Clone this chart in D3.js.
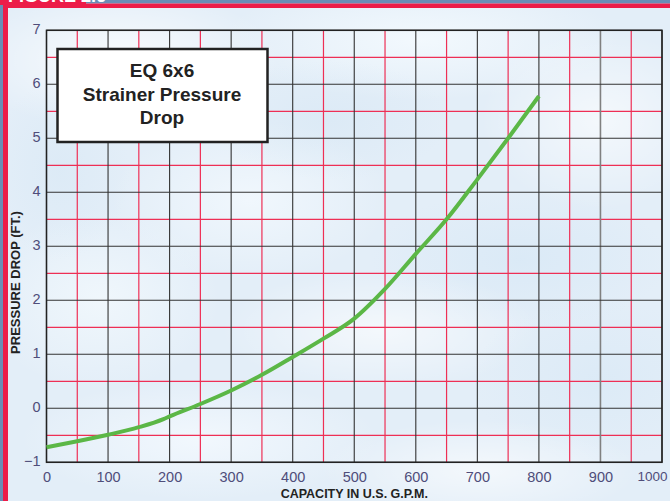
<!DOCTYPE html>
<html><head><meta charset="utf-8">
<script src="https://cdn.jsdelivr.net/npm/d3@7"></script>
<style>html,body{margin:0;padding:0;background:#e6f0f8;}svg{display:block;}</style>
</head><body>
<div id="chart"></div>
<script>
const flow = [0, 50, 100, 150, 190, 200, 250, 300, 350, 400, 450, 500, 550, 600, 650, 700, 750, 800];
const drop = [-0.72, -0.61, -0.49, -0.35, -0.2, -0.15, 0.08, 0.33, 0.62, 0.95, 1.29, 1.66, 2.21, 2.86, 3.5, 4.24, 5.0, 5.78];
const xTicks = [0, 100, 200, 300, 400, 500, 600, 700, 800, 900, 1000];
const yTicks = [-1, 0, 1, 2, 3, 4, 5, 6, 7];
const titleLines = ["EQ 6x6", "Strainer Pressure", "Drop"];
const xTitle = "CAPACITY IN U.S. G.P.M.";
const yTitle = "PRESSURE DROP (FT.)";
const figLabel = "FIGURE 2.6";

const W = 670, H = 501;
const svg = d3.select("#chart").append("svg").attr("width", W).attr("height", H)
  .style("font-family", "'Liberation Sans', Arial, sans-serif");
const defs = svg.append("defs");

// cloudy background
svg.append("rect").attr("width", W).attr("height", H).attr("fill", "#e3eef8");
const clouds = [
  [120, 60, 160, 70, "#ffffff", 0.8], [420, 40, 200, 60, "#f4fafe", 0.9], [600, 120, 120, 90, "#ffffff", 0.6],
  [250, 200, 140, 80, "#f6fbff", 0.7], [520, 260, 150, 70, "#d7e8f6", 0.7], [100, 300, 120, 90, "#f3f9fd", 0.8],
  [380, 330, 160, 60, "#ffffff", 0.6], [600, 380, 130, 80, "#d9e9f6", 0.7], [200, 440, 180, 60, "#f5faff", 0.8],
  [480, 470, 160, 50, "#ffffff", 0.6], [330, 120, 120, 60, "#d5e6f4", 0.5], [60, 170, 70, 90, "#d8e8f5", 0.6]
];
clouds.forEach((c, i) => {
  const g = defs.append("radialGradient").attr("id", "cl" + i);
  g.append("stop").attr("offset", "0%").attr("stop-color", c[4]).attr("stop-opacity", c[5]);
  g.append("stop").attr("offset", "100%").attr("stop-color", c[4]).attr("stop-opacity", 0);
  svg.append("ellipse").attr("cx", c[0]).attr("cy", c[1]).attr("rx", c[2]).attr("ry", c[3]).attr("fill", `url(#cl${i})`);
});

// frame
svg.append("rect").attr("x", 0).attr("y", 0).attr("width", W).attr("height", 3.5).attr("fill", "#6a8db6");
svg.append("rect").attr("x", 0).attr("y", 0).attr("width", 3).attr("height", H).attr("fill", "#6a8db6");
svg.append("rect").attr("x", 3).attr("y", 3.5).attr("width", W - 3).attr("height", 4.5).attr("fill", "#ec1c48");
svg.append("rect").attr("x", 3).attr("y", 3.5).attr("width", 5).attr("height", H).attr("fill", "#ec1c48");
svg.append("rect").attr("x", 0).attr("y", 0).attr("width", 86).attr("height", 5).attr("fill", "#ec1c48");
svg.append("text").attr("x", 8).attr("y", 2).attr("fill", "#fff").attr("font-weight", "bold")
  .attr("font-size", 18).text(figLabel);

const x = d3.scaleLinear().domain([0, 1000]).range([46.5, 662]);
const y = d3.scaleLinear().domain([-1, 7]).range([462.3, 30.3]);

const grid = svg.append("g");
const minorX = d3.range(50, 1000, 100);
const minorY = d3.range(-0.5, 7, 1);
grid.selectAll(".vx").data(minorX).join("line")
  .attr("x1", d => x(d)).attr("x2", d => x(d)).attr("y1", y(7)).attr("y2", y(-1))
  .attr("stroke", "#ee2f55").attr("stroke-width", 1.2);
grid.selectAll(".hy").data(minorY).join("line")
  .attr("y1", d => y(d)).attr("y2", d => y(d)).attr("x1", x(0)).attr("x2", x(1000))
  .attr("stroke", "#ee2f55").attr("stroke-width", 1.2);
grid.selectAll(".vX").data(xTicks).join("line")
  .attr("x1", d => x(d)).attr("x2", d => x(d)).attr("y1", y(7)).attr("y2", y(-1))
  .attr("stroke", d => d === 900 ? "#808080" : "#333").attr("stroke-width", d => d === 900 ? 1.6 : 1.1);
grid.selectAll(".hY").data(yTicks).join("line")
  .attr("y1", d => y(d)).attr("y2", d => y(d)).attr("x1", x(0)).attr("x2", x(1000))
  .attr("stroke", "#333").attr("stroke-width", 1.1);
svg.append("rect").attr("x", x(0)).attr("y", y(7)).attr("width", x(1000) - x(0)).attr("height", y(-1) - y(7))
  .attr("fill", "none").attr("stroke", "#222").attr("stroke-width", 1.5);

// axes labels
const xAxis = d3.axisBottom(x).tickValues(xTicks).tickSize(0).tickPadding(9).tickFormat(d3.format("d"));
const gx = svg.append("g").attr("transform", `translate(0,${y(-1)})`).call(xAxis);
gx.select(".domain").remove();
gx.selectAll("text").attr("font-size", 14.5).attr("fill", "#4f4d7a").attr("font-family", "'Liberation Sans', Arial, sans-serif");
gx.selectAll(".tick").filter(d => d === 1000).select("text").attr("text-anchor", "end").attr("x", 667 - x(1000)).attr("font-size", 13.5);

const yAxis = d3.axisLeft(y).tickValues(yTicks).tickSize(0).tickPadding(6).tickFormat(d3.format("d"));
const gy = svg.append("g").attr("transform", `translate(${x(0)},0)`).call(yAxis);
gy.select(".domain").remove();
gy.selectAll("text").attr("font-size", 14.5).attr("fill", "#4f4d7a").attr("dy", "0.25em").attr("font-family", "'Liberation Sans', Arial, sans-serif");

svg.append("text").attr("x", x(500)).attr("y", 497.5).attr("text-anchor", "middle")
  .attr("font-weight", "bold").attr("font-size", 12.5).attr("fill", "#222").text(xTitle);
svg.append("text").attr("transform", `translate(20,${282.5}) rotate(-90)`).attr("text-anchor", "middle")
  .attr("font-weight", "bold").attr("font-size", 13).attr("fill", "#222").text(yTitle);

// curve
const pts = flow.map((f, i) => [f, drop[i]]);
svg.append("path").datum(pts)
  .attr("d", d3.line().x(d => x(d[0])).y(d => y(d[1])).curve(d3.curveMonotoneX))
  .attr("fill", "none").attr("stroke", "#5bb746").attr("stroke-width", 4).attr("stroke-linecap", "butt");

// title box
const bx = 57.5, by = 49, bw = 210, bh = 93;
svg.append("rect").attr("x", bx).attr("y", by).attr("width", bw).attr("height", bh)
  .attr("fill", "#fff").attr("stroke", "#222").attr("stroke-width", 2.5);
svg.append("text").attr("x", 162).attr("text-anchor", "middle")
  .attr("font-weight", "bold").attr("font-size", 19).attr("fill", "#222")
  .selectAll("tspan").data(titleLines).join("tspan")
  .attr("x", 162).attr("y", (d, i) => 77 + i * 23.5).text(d => d);
</script>
</body></html>
